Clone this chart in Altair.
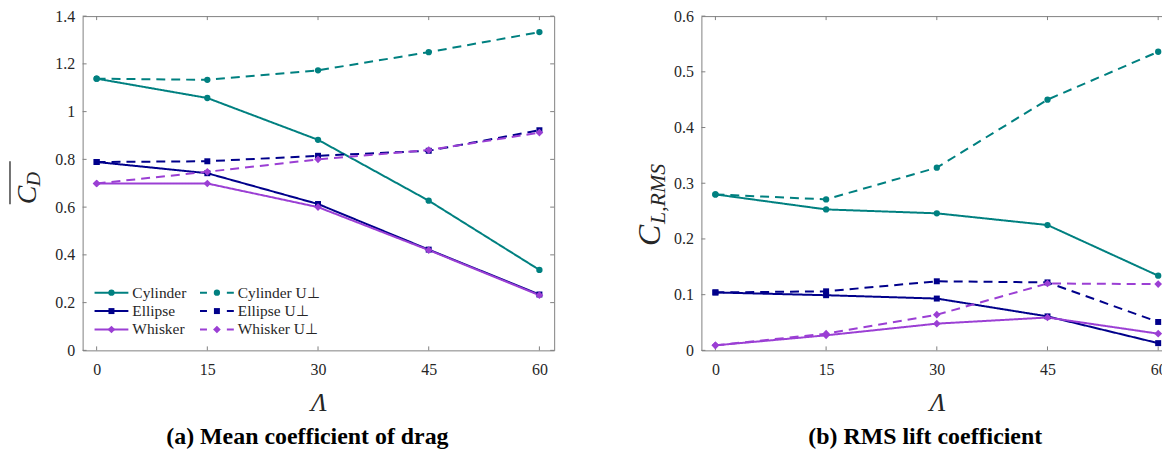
import altair as alt
import pandas as pd

# ---------------- data ----------------
L = [0, 15, 30, 45, 60]
series = ["Cylinder", "Ellipse", "Whisker", "Cylinder U⊥", "Ellipse U⊥", "Whisker U⊥"]
shapes = ["circle", "square", "diamond", "circle", "square", "diamond"]
sizes = [40, 36, 60, 40, 36, 60]
styles = ["solid", "solid", "solid", "dashed", "dashed", "dashed"]
colors = ["#008080", "#00008b", "#9b3fd4", "#008080", "#00008b", "#9b3fd4"]

# (a) mean drag coefficient
cd_cylinder = [1.138, 1.057, 0.882, 0.627, 0.337]
cd_ellipse = [0.789, 0.742, 0.613, 0.422, 0.234]
cd_whisker = [0.699, 0.699, 0.600, 0.420, 0.231]
cd_cylinder_perp = [1.138, 1.133, 1.173, 1.249, 1.333]
cd_ellipse_perp = [0.789, 0.792, 0.815, 0.836, 0.922]
cd_whisker_perp = [0.699, 0.748, 0.800, 0.839, 0.912]

# (b) RMS lift coefficient
cl_cylinder = [0.280, 0.253, 0.246, 0.225, 0.134]
cl_ellipse = [0.104, 0.099, 0.093, 0.061, 0.013]
cl_whisker = [0.009, 0.027, 0.048, 0.059, 0.030]
cl_cylinder_perp = [0.280, 0.271, 0.328, 0.450, 0.536]
cl_ellipse_perp = [0.104, 0.106, 0.124, 0.122, 0.051]
cl_whisker_perp = [0.009, 0.030, 0.064, 0.120, 0.119]

cd_yticks = [0, 0.2, 0.4, 0.6, 0.8, 1.0, 1.2, 1.4]
cl_yticks = [0, 0.1, 0.2, 0.3, 0.4, 0.5, 0.6]

SERIF = "'Liberation Serif', 'Times New Roman', Times, serif"
TXT = "#262626"
BOX = "#808080"


def long_df(cols):
    rows = []
    for i, vals in enumerate(cols):
        for x, v in zip(L, vals):
            rows.append({"L": x, "value": v, "series": series[i], "shape": shapes[i],
                         "size": sizes[i], "style": styles[i]})
    return pd.DataFrame(rows)


def tick_df(xdom, ydom, xticks, yticks, w, h, right=True, ln=4):
    dx = ln * (xdom[1] - xdom[0]) / w
    dy = ln * (ydom[1] - ydom[0]) / h
    rows = []
    for t in xticks:
        rows.append({"x": t, "x2": t, "y": ydom[0], "y2": ydom[0] + dy})
        rows.append({"x": t, "x2": t, "y": ydom[1], "y2": ydom[1] - dy})
    for t in yticks:
        rows.append({"x": xdom[0], "x2": xdom[0] + dx, "y": t, "y2": t})
        if right:
            rows.append({"x": xdom[1], "x2": xdom[1] - dx, "y": t, "y2": t})
    return pd.DataFrame(rows)


def panel(df, xdom, ydom, yticks, w, h, caption, cap_dx, title_parts, overline=None,
          legend=False, right_ticks=True):
    xs = alt.Scale(domain=xdom, nice=False, zero=False)
    ys = alt.Scale(domain=ydom, nice=False, zero=False)
    x = alt.X("L:Q", scale=xs, axis=alt.Axis(values=L, title="Λ", labelPadding=11,
                                            titlePadding=12, format="d"))
    y = alt.Y("value:Q", scale=ys, axis=alt.Axis(values=yticks, title=None, labelPadding=8,
                                                format=".1~f"))
    color = alt.Color("series:N", scale=alt.Scale(domain=series, range=colors), legend=None)
    base = alt.Chart(df)
    lines = base.mark_line(strokeWidth=2).encode(
        x=x, y=y, color=color, detail="series:N",
        strokeDash=alt.StrokeDash("style:N", scale=alt.Scale(domain=["solid", "dashed"],
                                                             range=[[1, 0], [9, 6]]), legend=None),
    )
    pts = base.mark_point(filled=True, opacity=1).encode(
        x=x, y=y, color=color,
        shape=alt.Shape("shape:N", scale=None),
        size=alt.Size("size:Q", scale=None),
    )
    tdf = tick_df(xdom, ydom, L, yticks, w, h, right=right_ticks)
    ticks = alt.Chart(tdf).mark_rule(color=BOX, strokeWidth=1).encode(
        x="x:Q", x2="x2:Q", y="y:Q", y2="y2:Q")
    layers = [ticks, lines, pts]
    for (txt, px, py, fs) in title_parts:
        layers.append(alt.Chart(pd.DataFrame({"t": [txt]})).mark_text(
            angle=270, align="left", baseline="alphabetic", font=SERIF, fontStyle="italic",
            fontSize=fs, color=TXT).encode(x=alt.value(px), y=alt.value(py), text="t:N"))
    if overline is not None:
        ox, oy1, oy2 = overline
        layers.append(alt.Chart(pd.DataFrame({"t": [0]})).mark_rule(color=TXT, strokeWidth=1.3).encode(
            x=alt.value(ox), y=alt.value(oy1), y2=alt.value(oy2)))
    if legend:
        rows = []
        for i, s in enumerate(series):
            col, row = i // 3, i % 3
            x0 = 12 + col * 106
            rows.append({"series": s, "shape": shapes[i], "size": sizes[i], "style": styles[i],
                         "lx1": x0, "lx2": x0 + 34, "mx": x0 + 17, "tx": x0 + 38,
                         "ly": 278 + row * 18.5})
        ldf = pd.DataFrame(rows)
        lc = alt.Color("series:N", scale=alt.Scale(domain=series, range=colors), legend=None)
        lb = alt.Chart(ldf)
        layers.append(lb.transform_filter("datum.style == 'solid'").mark_rule(strokeWidth=2).encode(
            x=alt.X("lx1:Q", scale=None), x2="lx2:Q", y=alt.Y("ly:Q", scale=None), color=lc))
        layers.append(lb.transform_filter("datum.style == 'dashed'").mark_rule(
            strokeWidth=2, strokeDash=[7, 20]).encode(
            x=alt.X("lx1:Q", scale=None), x2="lx2:Q", y=alt.Y("ly:Q", scale=None), color=lc))
        layers.append(lb.mark_point(filled=True, opacity=1).encode(
            x=alt.X("mx:Q", scale=None), y=alt.Y("ly:Q", scale=None), color=lc,
            shape=alt.Shape("shape:N", scale=None), size=alt.Size("size:Q", scale=None)))
        layers.append(lb.mark_text(align="left", baseline="middle", font=SERIF, fontSize=15.5,
                                   color=TXT).encode(
            x=alt.X("tx:Q", scale=None), y=alt.Y("ly:Q", scale=None), text="series:N"))
    return alt.layer(*layers).properties(
        width=w, height=h,
        title=alt.TitleParams(caption, orient="bottom", frame="group", anchor="middle",
                              dx=cap_dx, offset=10, font=SERIF, fontSize=24,
                              fontWeight="bold", color="#000000"),
    )


H = 336
left = panel(
    long_df([cd_cylinder, cd_ellipse, cd_whisker, cd_cylinder_perp, cd_ellipse_perp, cd_whisker_perp]),
    [-1.9, 62.0], [0, 1.4], cd_yticks, 474, H,
    "(a) Mean coefficient of drag", -11,
    [("C", -47, 189, 28), ("D", -43, 171, 20)],
    overline=(-73, 146, 189), legend=True,
)
right = panel(
    long_df([cl_cylinder, cl_ellipse, cl_whisker, cl_cylinder_perp, cl_ellipse_perp, cl_whisker_perp]),
    [-1.9, 62.0], [0, 0.6], cl_yticks, 474, H,
    "(b) RMS lift coefficient", -12,
    [("C", -42, 231, 32), ("L,RMS", -37, 209, 22)],
    legend=False, right_ticks=False,
)

chart = alt.hconcat(left, right, spacing=78).properties(
    padding={"left": 0, "top": -2, "right": -12, "bottom": 0},
    background="white",
).configure_view(stroke=BOX, strokeWidth=1).configure_axis(
    labelFont=SERIF, labelFontSize=16, labelColor=TXT, domain=False, ticks=False, tickSize=0,
    grid=False, titleFont=SERIF, titleFontStyle="italic", titleFontWeight="normal",
    titleFontSize=26, titleColor=TXT,
)

chart.save("out.html", embed_options={"renderer": "svg", "actions": False})
